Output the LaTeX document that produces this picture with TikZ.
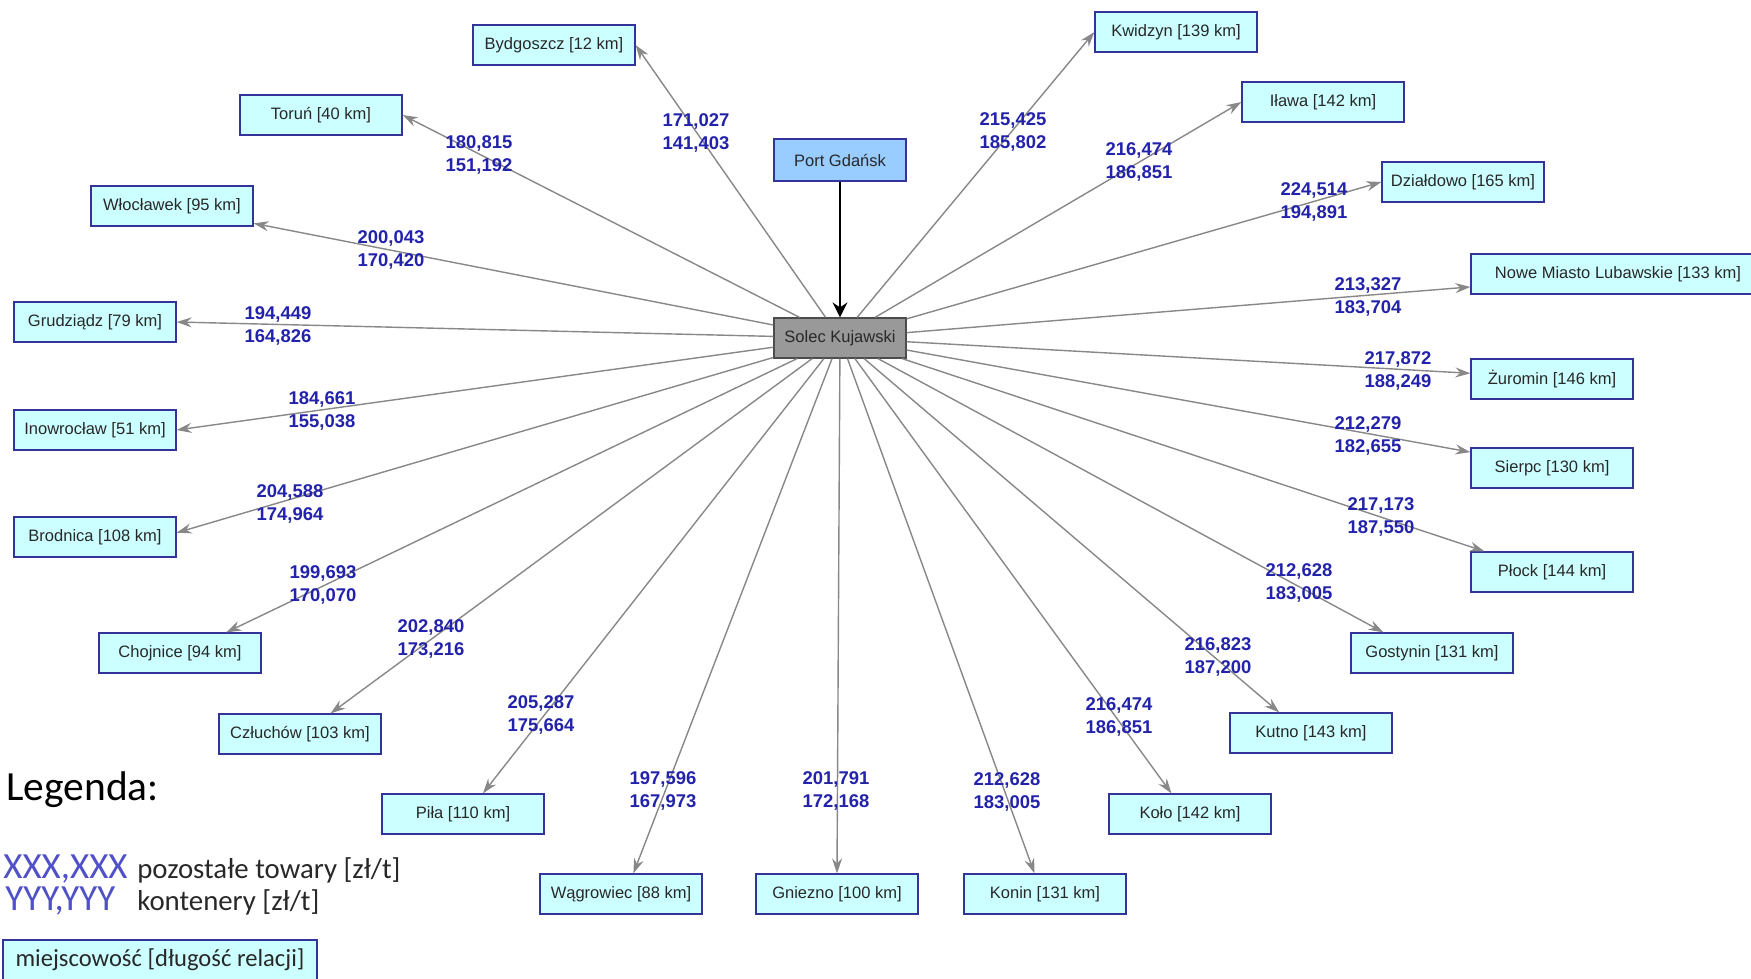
\documentclass[tikz,border=0pt]{standalone}
\usepackage{fontspec}
\setmainfont{Liberation Sans}
\newfontfamily\legendfont{Carlito}
\usetikzlibrary{arrows.meta}
\definecolor{placepale}{RGB}{204,255,255}
\definecolor{placeedge}{RGB}{51,51,153}
\definecolor{portpale}{RGB}{153,204,255}
\definecolor{hubgray}{RGB}{153,153,153}
\definecolor{routegray}{RGB}{136,136,136}
\definecolor{rateblue}{RGB}{34,34,170}
\definecolor{legendblue}{RGB}{80,80,200}
\definecolor{labeltext}{RGB}{40,40,40}

\begin{document}
\begin{tikzpicture}[x=0.2mm,y=-0.2mm,
    place/.style={draw=placeedge,fill=placepale,line width=0.7pt,minimum width=3.24cm,minimum height=0.8cm,
      inner sep=0pt,text=labeltext,font=\fontsize{9.4}{11}\selectfont},
    route/.style={draw=routegray,line width=0.8pt,-{Stealth[length=3mm,width=2mm,inset=1mm]}},
    rate/.style={align=center,text=rateblue,inner sep=0pt,font=\fontsize{10.5}{13.2}\selectfont\bfseries},
    legendtext/.style={anchor=base west,inner sep=0pt,font=\legendfont\fontsize{16.4}{19}\selectfont}]
  \useasboundingbox (0,0) rectangle (1751,978);

  % port and hub
  \node[place,fill=portpale,minimum width=2.64cm,minimum height=0.84cm] (port) at (840,160) {Port Gdańsk};
  \node[place,fill=hubgray,draw=black!70,minimum width=2.64cm] (solec) at (840,338) {Solec Kujawski};
  \draw[line width=0.9pt,-{Stealth[length=3mm,width=3mm,inset=1mm]}] (port) -- (solec);

  % destinations
  \node[place] (bydgoszcz) at (554,45) {Bydgoszcz [12 km]};
  \node[place] (torun) at (321,115) {Toruń [40 km]};
  \node[place] (wloclawek) at (172,206) {Włocławek [95 km]};
  \node[place] (grudziadz) at (95,322) {Grudziądz [79 km]};
  \node[place] (inowroclaw) at (95,430) {Inowrocław [51 km]};
  \node[place] (brodnica) at (95,537) {Brodnica [108 km]};
  \node[place] (chojnice) at (180,653) {Chojnice [94 km]};
  \node[place] (czluchow) at (300,734) {Człuchów [103 km]};
  \node[place] (pila) at (463,814) {Piła [110 km]};
  \node[place] (wagrowiec) at (621,894) {Wągrowiec [88 km]};
  \node[place] (gniezno) at (837,894) {Gniezno [100 km]};
  \node[place] (konin) at (1045,894) {Konin [131 km]};
  \node[place] (kolo) at (1190,814) {Koło [142 km]};
  \node[place] (kutno) at (1311,733) {Kutno [143 km]};
  \node[place] (gostynin) at (1432,653) {Gostynin [131 km]};
  \node[place] (plock) at (1552,572) {Płock [144 km]};
  \node[place] (sierpc) at (1552,468) {Sierpc [130 km]};
  \node[place] (zuromin) at (1552,379) {Żuromin [146 km]};
  \node[place,minimum width=5.88cm] (nowemiasto) at (1618,274) {Nowe Miasto Lubawskie [133 km]};
  \node[place] (dzialdowo) at (1463,182) {Działdowo [165 km]};
  \node[place] (ilawa) at (1323,102) {Iława [142 km]};
  \node[place] (kwidzyn) at (1176,32) {Kwidzyn [139 km]};

  % routes out of the hub
  \draw[route] (solec) -- (bydgoszcz.east);
  \draw[route] (solec) -- (torun.east);
  \draw[route] (solec) -- (wloclawek.-12);
  \draw[route] (solec) -- (grudziadz.east);
  \draw[route] (solec) -- (inowroclaw.east);
  \draw[route] (solec) -- (brodnica.3);
  \draw[route] (solec) -- (chojnice.24);
  \draw[route] (solec) -- (czluchow.34);
  \draw[route] (solec) -- (pila.46);
  \draw[route] (solec) -- (wagrowiec.59);
  \draw[route] (solec) -- (gniezno.north);
  \draw[route] (solec) -- (konin.117);
  \draw[route] (solec) -- (kolo.132);
  \draw[route] (solec) -- (kutno.147);
  \draw[route] (solec) -- (gostynin.157);
  \draw[route] (solec) -- (plock.163);
  \draw[route] (solec) -- (sierpc.169);
  \draw[route] (solec) -- (zuromin.176);
  \draw[route] (solec) -- (nowemiasto.185);
  \draw[route] (solec) -- (dzialdowo.west);
  \draw[route] (solec) -- (ilawa.west);
  \draw[route] (solec) -- (kwidzyn.west);

  % rates: other goods / containers
  \node[rate] (r-bydgoszcz) at (696,133) {171,027\\141,403};
  \node[rate] (r-torun) at (479,155) {180,815\\151,192};
  \node[rate] (r-wloclawek) at (391,250) {200,043\\170,420};
  \node[rate] (r-grudziadz) at (278,326) {194,449\\164,826};
  \node[rate] (r-inowroclaw) at (322,411) {184,661\\155,038};
  \node[rate] (r-brodnica) at (290,504) {204,588\\174,964};
  \node[rate] (r-chojnice) at (323,585) {199,693\\170,070};
  \node[rate] (r-czluchow) at (431,639) {202,840\\173,216};
  \node[rate] (r-pila) at (541,715) {205,287\\175,664};
  \node[rate] (r-wagrowiec) at (663,791) {197,596\\167,973};
  \node[rate] (r-gniezno) at (836,791) {201,791\\172,168};
  \node[rate] (r-konin) at (1007,792) {212,628\\183,005};
  \node[rate] (r-kolo) at (1119,717) {216,474\\186,851};
  \node[rate] (r-kutno) at (1218,657) {216,823\\187,200};
  \node[rate] (r-gostynin) at (1299,583) {212,628\\183,005};
  \node[rate] (r-plock) at (1381,517) {217,173\\187,550};
  \node[rate] (r-sierpc) at (1368,436) {212,279\\182,655};
  \node[rate] (r-zuromin) at (1398,371) {217,872\\188,249};
  \node[rate] (r-nowemiasto) at (1368,297) {213,327\\183,704};
  \node[rate] (r-dzialdowo) at (1314,202) {224,514\\194,891};
  \node[rate] (r-ilawa) at (1139,162) {216,474\\186,851};
  \node[rate] (r-kwidzyn) at (1013,132) {215,425\\185,802};

  % legend
  \node[legendtext,font=\legendfont\fontsize{23.6}{28}\selectfont] (legend) at (6,800) {Legenda:};
  \node[legendtext,text=legendblue,font=\legendfont\fontsize{21}{24}\selectfont] (xxx) at (3,878) {XXX,XXX};
  \node[legendtext,text=labeltext] (xxx-text) at (137,878) {pozostałe towary [zł/t]};
  \node[legendtext,text=legendblue,font=\legendfont\fontsize{21}{24}\selectfont] (yyy) at (5,910) {YYY,YYY};
  \node[legendtext,text=labeltext] (yyy-text) at (137,910) {kontenery [zł/t]};
  \node[place,minimum width=6.28cm,font=\legendfont\fontsize{14}{17}\selectfont] (legendbox) at (160,960)
    {miejscowość [długość relacji]};
\end{tikzpicture}
\end{document}
